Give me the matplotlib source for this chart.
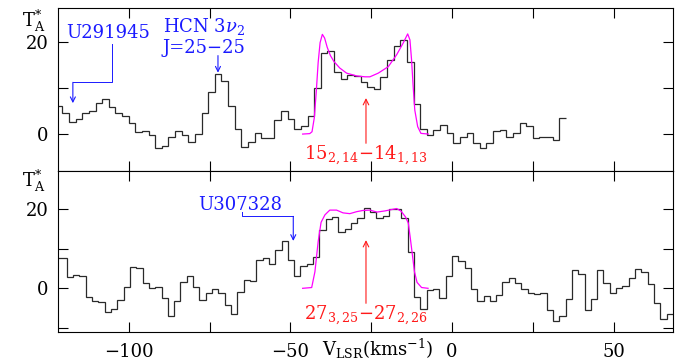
import matplotlib
matplotlib.use('Agg')
import matplotlib.pyplot as plt
import numpy as np

plt.rcParams['font.family'] = ['DejaVu Serif']
plt.rcParams['mathtext.fontset'] = 'dejavuserif'

# ---------------- data ----------------
# top panel: observed spectrum (channels, K)
top_v0 = -122.59      # left edge of first channel (km/s)
top_dv = 2.05         # channel width (km/s)
top_T = [6.1, 4.5, 2.7, 3.2, 4.6, 5.1, 6.8, 7.7, 5.9, 4.6,
         3.9, 2.3, 0.5, 0.7, -0.2, -3.1, -2.6, -0.6, 0.7, -0.2,
         -1.7, 0.0, 4.5, 9.2, 13.0, 11.4, 6.1, 1.2, -2.9, -1.7,
         0.15, -0.9, -0.9, 3.0, 5.1, 3.2, 1.2, 1.7, 3.9, 9.9,
         17.5, 17.9, 13.5, 12.0, 12.8, 12.6, 11.2, 10.1, 9.7, 12.3,
         16.1, 19.0, 20.4, 15.7, 6.5, 1.0, -0.2, 0.9, 2.0, 0.3,
         -1.9, -0.7, 0.15, -1.9, -3.1, -2.0, 0.7, 0.9, -0.6, 0.15,
         2.3, 1.7, -0.9, -0.7, -0.6, -1.3, 3.4]

# top panel: model profile
top_model_v = [-46.2, -44.0, -43.3, -42.6, -42.0, -41.4, -40.8, -40.1, -39.4, -38.6,
               -37.6, -36.5, -34.7, -32.6, -29.5, -26.9, -25.4, -22.8, -19.7, -17.1,
               -15.1, -13.7, -13.0, -12.5, -12.0, -11.5, -10.6, -9.6, -7.3]
top_model_T = [0.0, 0.1, 0.5, 3.5, 9.0, 15.5, 19.8, 21.6, 20.8, 18.8,
               17.0, 15.7, 14.3, 13.2, 12.6, 12.4, 12.4, 13.2, 14.6, 17.2,
               19.7, 21.7, 20.4, 16.1, 10.3, 5.2, 1.6, 0.15, 0.0]

# bottom panel: observed spectrum
bot_v0 = -123.07
bot_dv = 1.9536
bot_T = [7.6, 7.6,
         2.9, 3.4, 3.0, -2.1, -3.2, -3.4, -5.9, -5.3, -3.0, 0.4,
         5.5, 5.1, 1.3, 0.0, 0.4, -2.5, -6.9, -3.2, 1.7, 3.1,
         0.4, -3.0, -1.1, -0.2, -1.1, -4.2, -6.6, -1.0, 2.1, 1.9,
         7.2, 7.7, 6.2, 9.8, 12.1, 7.1, 3.1, 5.6, 6.2, 8.0,
         14.8, 17.6, 18.1, 14.3, 14.9, 16.5, 17.7, 20.3, 19.4, 17.7,
         18.4, 20.0, 20.0, 17.9, 9.3, -2.3, -5.3, -0.4, -0.3, -2.5,
         3.0, 8.1, 7.0, 5.2, -0.1, -3.1, -1.9, -3.1, -1.8, 1.6,
         2.6, 1.4, -0.1, -1.3, -1.4, -1.3, -5.4, -8.3, -7.1, -2.7,
         4.6, 3.5, -5.4, -2.8, 4.6, 1.4, -1.2, 0.0, 0.5, 2.5,
         4.8, 4.1, 1.2, -3.6, -7.7, -6.5]

bot_model_v = [-46.2, -43.4, -42.4, -41.4, -40.5, -39.3, -37.8, -35.7, -33.7, -31.6,
               -29.5, -27.6, -25.4, -23.2, -20.7, -18.9, -17.1, -15.7, -14.4, -13.5,
               -12.9, -12.2, -11.6, -10.8, -9.4, -7.4]
bot_model_T = [0.0, 0.2, 4.2, 11.8, 16.7, 18.6, 19.8, 19.8, 19.1, 18.9,
               19.4, 19.7, 19.8, 19.3, 19.6, 19.9, 20.2, 19.5, 18.1, 16.5,
               12.8, 8.2, 4.2, 1.5, 0.2, 0.0]

x_ticks = [-100, -75, -50, -25, 0, 25, 50]
x_tick_labels = ['\u2212100', '', '\u221250', '', '0', '', '50']
top_yticks = [0, 10, 20]
bot_yticks = [-10, 0, 10, 20]

# ---------------- figure ----------------
fig = plt.figure(figsize=(6.75, 3.64), dpi=100)
ax1 = fig.add_axes([58/675, 1-171/364, 615/675, 162.5/364])
ax2 = fig.add_axes([58/675, 1-332/364, 615/675, 161/364])

spec_col = '#2a2a2a'
mod_col = '#ff00ff'
FS = 13

ax1.stairs(top_T, top_v0 + top_dv*np.arange(len(top_T)+1), baseline=None,
           color=spec_col, lw=0.9)
ax1.plot(top_model_v, top_model_T, color=mod_col, lw=0.9)
ax2.stairs(bot_T, bot_v0 + bot_dv*np.arange(len(bot_T)+1), baseline=None,
           color=spec_col, lw=0.9)
ax2.plot(bot_model_v, bot_model_T, color=mod_col, lw=0.9)

for ax in (ax1, ax2):
    ax.set_xlim(-121.9, 68.4)
    ax.set_xticks(x_ticks)
    ax.tick_params(direction='in', top=True, right=True, length=7, width=0.8,
                   labelsize=FS, pad=7)
    for s in ax.spines.values():
        s.set_linewidth(0.8)
ax1.set_ylim(-8.0, 27.2)
ax2.set_ylim(-11.06, 29.7)
ax1.set_xticklabels([])
ax2.set_xticklabels(x_tick_labels)
ax2.tick_params(axis='x', pad=8)
ax1.set_yticks(top_yticks)
ax1.set_yticklabels(['0', '', '20'])
ax2.set_yticks(bot_yticks)
ax2.set_yticklabels(['', '0', '', '20'])

# axis labels
fig.text(22/675, 1-27/364, r'T$_{\rm A}^{*}$', ha='left', va='baseline', fontsize=FS)
fig.text(22/675, 1-187/364, r'T$_{\rm A}^{*}$', ha='left', va='baseline', fontsize=FS)
fig.text(378/675, 1-356/364, r'V$_{\rm LSR}$(kms$^{-1}$)', ha='center', va='baseline', fontsize=FS)

blue = '#1a1aff'
red = '#ff1a1a'
arr_b = dict(arrowstyle='->', color=blue, lw=0.8, shrinkA=0, shrinkB=0, mutation_scale=9)
arr_r = dict(arrowstyle='->', color=red, lw=0.8, shrinkA=0, shrinkB=0, mutation_scale=10)

# top panel annotations
ax1.text(-106.4, 20.9, 'U291945', color=blue, ha='center', va='baseline', fontsize=FS)
ax1.plot([-105.3, -105.3, -117.3], [19.6, 11.2, 11.2], color=blue, lw=0.7)
ax1.annotate('', xy=(-117.3, 6.7), xytext=(-117.3, 11.2), arrowprops=arr_b)
ax1.text(-76.7, 22.2, r'HCN 3$\nu_2$', color=blue, ha='center', va='baseline', fontsize=FS)
ax1.text(-76.7, 17.6, 'J=25\u221225', color=blue, ha='center', va='baseline', fontsize=FS)
ax1.annotate('', xy=(-72.4, 13.3), xytext=(-72.4, 17.0), arrowprops=arr_b)
ax1.text(-26.6, -5.6, r'15$_{2,14}$$-$14$_{1,13}$', color=red, ha='center', va='baseline', fontsize=FS)
ax1.annotate('', xy=(-26.6, 7.8), xytext=(-26.6, -2.0), arrowprops=arr_r)

# bottom panel annotations
ax2.text(-65.6, 19.8, 'U307328', color=blue, ha='center', va='baseline', fontsize=FS)
ax2.plot([-64.9, -64.9, -49.1], [19.4, 18.2, 18.2], color=blue, lw=0.7)
ax2.annotate('', xy=(-49.1, 12.0), xytext=(-49.1, 18.2), arrowprops=arr_b)
ax2.text(-26.6, -8.0, r'27$_{3,25}$$-$27$_{2,26}$', color=red, ha='center', va='baseline', fontsize=FS)
ax2.annotate('', xy=(-26.6, 12.2), xytext=(-26.6, -3.8), arrowprops=arr_r)

fig.savefig('out.png', dpi=100)
